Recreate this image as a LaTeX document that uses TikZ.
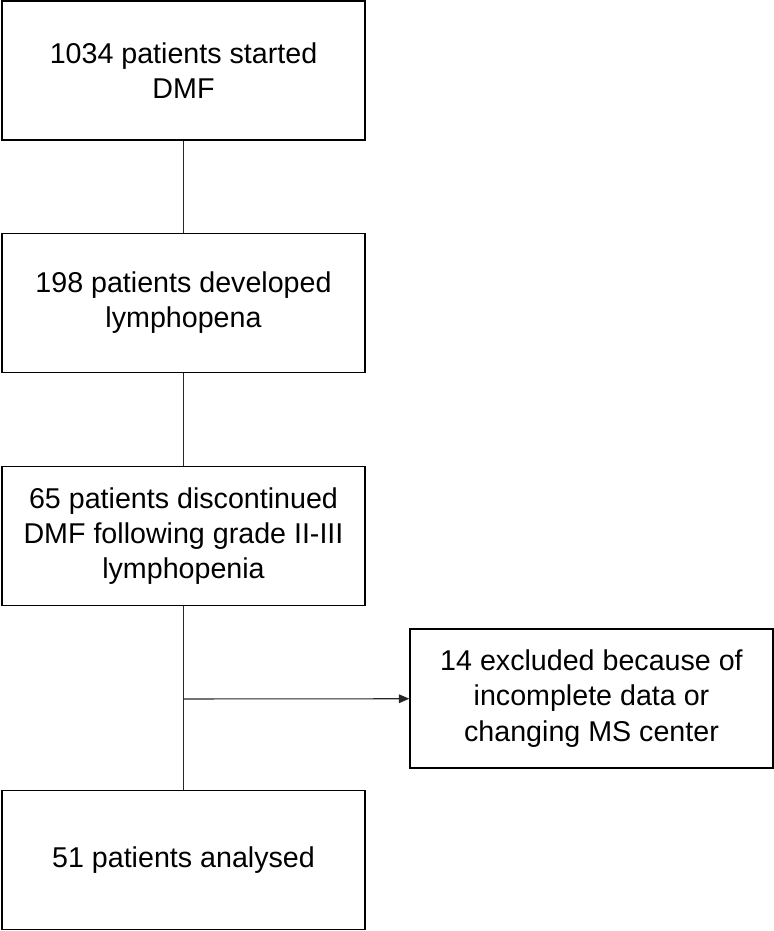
\documentclass[tikz,border=0pt]{standalone}
\usepackage{fontspec}
\setmainfont{Liberation Sans}
\usetikzlibrary{positioning,arrows.meta}

\begin{document}
\begin{tikzpicture}[x=0.02cm,y=-0.02cm,
  flowbox/.style={rectangle,draw,line width=0.8pt,minimum width=7.26cm,minimum height=2.78cm,
    inner sep=0pt,align=center,font=\fontsize{16.3}{20}\selectfont},
  link/.style={line width=0.6pt,draw=black!85}]
\useasboundingbox (0,0) rectangle (774,931);
\node at (183.5,70.5) [flowbox] (started) {1034 patients started\\DMF};
\node at (183.5,303) [flowbox] (lympho) {198 patients developed\\lymphopena};
\node at (183.5,536) [flowbox] (discont) {65 patients discontinued\\DMF following grade II-III\\lymphopenia};
\node at (591.5,698.5) [flowbox] (excl) {14 excluded because of\\incomplete data or\\changing MS center};
\node at (183.5,860) [flowbox] (analysed) {51 patients analysed};
\coordinate (split) at (183.5,699);
\draw [link] (started) -- (lympho);
\draw [link] (lympho) -- (discont);
\draw [link] (discont) -- (analysed);
\draw [link,-{Triangle[length=6pt,width=5pt]}] (split) -- (excl);
\end{tikzpicture}
\end{document}
